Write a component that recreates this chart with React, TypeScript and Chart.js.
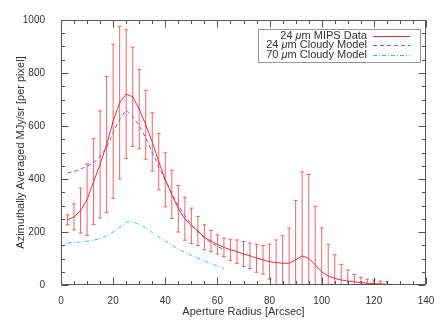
import React, { useEffect, useRef } from 'react';
import { Chart, registerables } from 'chart.js';

Chart.register(...registerables);

// Aperture radius of the MIPS data points [arcsec]
const radius = [
  2.5, 5, 7.5, 10, 12.5, 15, 17.5, 20, 22.5, 25,
  27.5, 30, 32.5, 35, 37.5, 40, 42.5, 45, 47.5, 50,
  52.5, 55, 57.5, 60, 62.5, 65, 67.5, 70, 72.5, 75,
  77.5, 80, 82.5, 85, 87.5, 90, 92.5, 95, 97.5, 100,
  102.5, 105, 107.5, 110, 112.5, 115, 117.5, 120, 122.5, 125,
];

// 24 um MIPS data (MJy/sr per pixel)
const mipsValues = [
  246, 257, 281, 322, 390, 455, 530, 618, 688, 720,
  710, 664, 605, 540, 465, 397, 342, 288, 250, 223,
  204, 180, 166, 153, 142, 133, 126, 117, 110, 101,
  95, 88, 85, 82, 82, 95, 110, 101, 76, 50,
  34, 25, 19, 15, 12, 9, 7, 5, 4, 3,
];

// symmetric error on the MIPS data
const mipsErrors = [
  19, 49, 85, 135, 162, 202, 257, 291, 288, 243,
  187, 150, 130, 110, 106, 102, 91, 88, 81, 67,
  55, 47, 40, 36, 35, 40, 44, 47, 48, 53,
  54, 66, 85, 104, 133, 224, 317, 316, 221, 165,
  120, 89, 59, 42, 28, 20, 15, 14, 11, 10,
];

// Cloudy model radii [arcsec]
const modelRadius = [
  2.5, 5, 7.5, 10, 12.5, 15, 17.5, 20, 22.5, 25,
  27.5, 30, 32.5, 35, 37.5, 40, 42.5, 45, 47.5, 50,
  52.5, 55, 57.5, 60, 62.5,
];

const cloudy24 = [
  423, 428, 438, 448, 461, 486, 518, 575, 625, 660,
  637, 600, 556, 500, 445, 395, 345, 300, 262, 228,
  200, 178, 160, 146, 133,
];

const cloudy70 = [
  158, 160, 162, 165, 169, 175, 185, 200, 218, 237,
  239, 228, 215, 198, 181, 166, 150, 136, 124, 112,
  101, 91, 81, 71, 62,
];

const xTicks = [0, 20, 40, 60, 80, 100, 120, 140];
const yTicks = [0, 200, 400, 600, 800, 1000];

const FONT = "'Liberation Sans', Arial, sans-serif";
const RED = '#ee2a3a';
const ERR = 'rgba(240, 70, 85, 0.85)';
const PURPLE = '#7b63c9';
const CYAN = '#2ec4d4';
const AXIS = '#555555';
const TEXT = '#333333';

const errorBarPlugin = {
  id: 'errorBars',
  beforeDatasetsDraw(chart: any) {
    const { ctx, chartArea: a, scales } = chart;
    const x = scales.x;
    const y = scales.y;
    ctx.save();
    ctx.beginPath();
    ctx.rect(a.left, a.top - 1, a.right - a.left, a.bottom - a.top + 1);
    ctx.clip();
    ctx.strokeStyle = ERR;
    ctx.lineWidth = 1;
    radius.forEach((r, i) => {
      const px = x.getPixelForValue(r);
      const hiV = mipsValues[i] + mipsErrors[i];
      const loV = mipsValues[i] - mipsErrors[i];
      const hi = y.getPixelForValue(hiV);
      const lo = y.getPixelForValue(Math.max(loV, -30));
      ctx.beginPath();
      ctx.moveTo(px, hi);
      ctx.lineTo(px, lo);
      ctx.moveTo(px - 2, hi);
      ctx.lineTo(px + 2, hi);
      if (loV >= 0) {
        ctx.moveTo(px - 2, lo);
        ctx.lineTo(px + 2, lo);
      }
      ctx.stroke();
    });
    ctx.restore();
  },
};

const framePlugin = {
  id: 'idlFrame',
  afterDraw(chart: any) {
    const { ctx, chartArea: a, scales } = chart;
    const x = scales.x;
    const y = scales.y;
    const L = Math.round(a.left) + 0.5;
    const R = Math.round(a.right) - 0.5;
    const T = Math.round(a.top) + 0.5;
    const B = Math.round(a.bottom) - 0.5;
    ctx.save();
    ctx.strokeStyle = AXIS;
    ctx.lineWidth = 1;
    ctx.beginPath();
    ctx.rect(L, T, R - L, B - T);
    ctx.stroke();
    ctx.beginPath();
    for (let v = 0; v <= 140; v += 5) {
      const px = Math.round(x.getPixelForValue(v)) + 0.5;
      const len = v % 20 === 0 ? 7 : 3.5;
      ctx.moveTo(px, B);
      ctx.lineTo(px, B - len);
      ctx.moveTo(px, T);
      ctx.lineTo(px, T + len);
    }
    for (let v = 0; v <= 1000; v += 50) {
      const py = Math.round(y.getPixelForValue(v)) + 0.5;
      const len = v % 200 === 0 ? 7 : 3.5;
      ctx.moveTo(L, py);
      ctx.lineTo(L + len, py);
      ctx.moveTo(R, py);
      ctx.lineTo(R - len, py);
    }
    ctx.stroke();

    // legend
    const boxL = 258.5, boxR = 420.5, boxT = 29.5, boxB = 62.5;
    ctx.fillStyle = '#ffffff';
    ctx.fillRect(boxL, boxT, boxR - boxL, boxB - boxT);
    ctx.strokeStyle = '#999999';
    ctx.strokeRect(boxL, boxT, boxR - boxL, boxB - boxT);
    const items = [
      { pre: '24 ', post: 'm MIPS Data', color: RED, dash: [] as number[] },
      { pre: '24 ', post: 'm Cloudy Model', color: PURPLE, dash: [4, 3] },
      { pre: '70 ', post: 'm Cloudy Model', color: CYAN, dash: [4, 2, 1, 2] },
    ];
    const textRight = 367;
    const rows = [35.7, 45.2, 54.6];
    items.forEach((it, i) => {
      const cy = rows[i];
      ctx.textBaseline = 'middle';
      ctx.textAlign = 'left';
      ctx.fillStyle = TEXT;
      const normal = `11px ${FONT}`;
      const italic = `italic 11px ${FONT}`;
      ctx.font = normal;
      const wPre = ctx.measureText(it.pre).width;
      const wPost = ctx.measureText(it.post).width;
      ctx.font = italic;
      const wMu = ctx.measureText('\u03bc').width;
      let sx = textRight - (wPre + wMu + wPost);
      ctx.font = normal;
      ctx.fillText(it.pre, sx, cy);
      sx += wPre;
      ctx.font = italic;
      ctx.fillText('\u03bc', sx, cy);
      sx += wMu;
      ctx.font = normal;
      ctx.fillText(it.post, sx, cy);
      ctx.beginPath();
      ctx.setLineDash(it.dash);
      ctx.strokeStyle = it.color;
      ctx.moveTo(373, Math.round(cy) + 0.5);
      ctx.lineTo(410, Math.round(cy) + 0.5);
      ctx.stroke();
      ctx.setLineDash([]);
    });
    ctx.restore();
  },
};

export default function App() {
  const canvasRef = useRef<HTMLCanvasElement | null>(null);

  useEffect(() => {
    if (!canvasRef.current) return;
    const chart = new Chart(canvasRef.current, {
      type: 'line',
      data: {
        datasets: [
          {
            label: '24 \u03bcm MIPS Data',
            data: radius.map((r, i) => ({ x: r, y: mipsValues[i] })),
            borderColor: RED,
            borderWidth: 1,
            pointRadius: 0,
            fill: false,
          },
          {
            label: '24 \u03bcm Cloudy Model',
            data: modelRadius.map((r, i) => ({ x: r, y: cloudy24[i] })),
            borderColor: PURPLE,
            borderWidth: 1,
            borderDash: [4, 3],
            pointRadius: 0,
            fill: false,
          },
          {
            label: '70 \u03bcm Cloudy Model',
            data: modelRadius.map((r, i) => ({ x: r, y: cloudy70[i] })),
            borderColor: CYAN,
            borderWidth: 1,
            borderDash: [4, 2, 1, 2],
            pointRadius: 0,
            fill: false,
          },
        ],
      },
      options: {
        responsive: false,
        animation: false,
        layout: { padding: { top: 20, right: 18, left: 0, bottom: 0 } },
        plugins: {
          legend: { display: false },
          tooltip: { enabled: false },
        },
        scales: {
          x: {
            type: 'linear',
            min: 0,
            max: 140,
            afterBuildTicks: (s: any) => {
              s.ticks = xTicks.map((v) => ({ value: v }));
            },
            afterFit: (s: any) => {
              s.height = 42;
            },
            grid: { display: false },
            border: { display: false },
            ticks: {
              padding: 2,
              color: TEXT,
              font: { family: FONT, size: 10 },
              maxRotation: 0,
              callback: (v: any) => String(v),
            },
            title: {
              display: true,
              text: 'Aperture Radius [Arcsec]',
              color: TEXT,
              font: { family: FONT, size: 11 },
              padding: { top: 0, bottom: 8 },
            },
          },
          y: {
            type: 'linear',
            min: 0,
            max: 1000,
            afterBuildTicks: (s: any) => {
              s.ticks = yTicks.map((v) => ({ value: v }));
            },
            afterFit: (s: any) => {
              s.width = 61;
            },
            grid: { display: false },
            border: { display: false },
            ticks: {
              padding: 8,
              color: TEXT,
              font: { family: FONT, size: 10 },
              callback: (v: any) => String(v),
            },
            title: {
              display: true,
              text: 'Azimuthally Averaged MJy/sr [per pixel]',
              color: TEXT,
              font: { family: FONT, size: 11 },
              padding: { top: 14, bottom: 0 },
            },
          },
        },
      },
      plugins: [errorBarPlugin, framePlugin],
    } as any);
    return () => chart.destroy();
  }, []);

  return (
    <div style={{ position: 'fixed', left: 0, top: 0, width: 444, height: 327, background: '#fff' }}>
      <canvas ref={canvasRef} width={444} height={327} style={{ width: 444, height: 327 }} />
    </div>
  );
}
